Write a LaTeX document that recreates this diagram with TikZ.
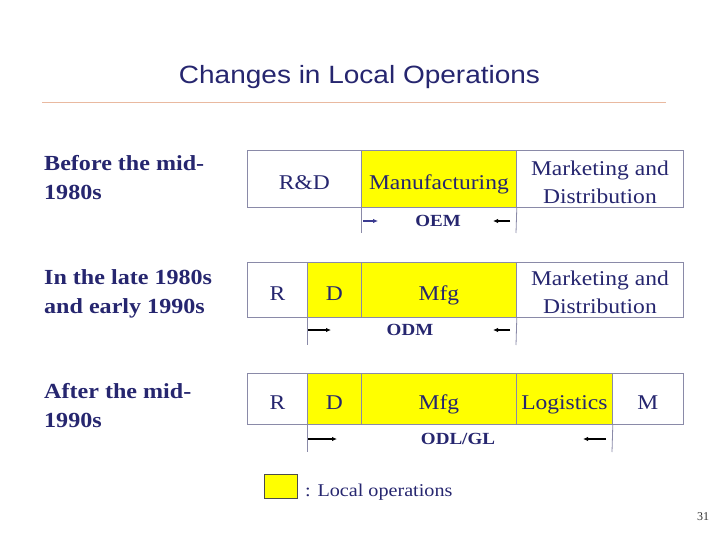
\documentclass[tikz,border=0pt]{standalone}
\usepackage{fontspec}
\setmainfont{Liberation Serif}
\newfontfamily\titlefont{Liberation Sans}
\usetikzlibrary{arrows.meta}
\definecolor{navy}{HTML}{26266F}
\definecolor{rulec}{HTML}{E9B9A0}
\definecolor{boxline}{HTML}{8A8AA8}
\definecolor{ylw}{HTML}{FFFF00}
\definecolor{arrblue}{HTML}{3A3A90}
\newcommand\wide[1]{\scalebox{1.12}[1]{#1}}
\begin{document}
\begin{tikzpicture}[x=1pt,y=-1pt,
  cellnode/.style={draw=boxline, line width=0.8pt, anchor=north west, inner sep=0pt,
    font=\fontsize{21}{28}\selectfont, text=navy, align=center, text depth=0pt},
  yel/.style={fill=ylw},
  tickline/.style={draw=boxline, line width=0.8pt},
  tag/.style={font=\bfseries\fontsize{17}{20}\selectfont, text=navy, inner sep=0pt},
  arr/.style={-{Latex[length=5pt,width=4.5pt]}, line width=1.2pt},
  lefttext/.style={font=\bfseries\fontsize{21.5}{29}\selectfont, text=navy, align=left, inner sep=0pt, anchor=base west}
]
\useasboundingbox[fill=white] (0,0) rectangle (720,540);
% title
\node[font=\titlefont\fontsize{25}{30}\selectfont, text=navy, inner sep=0pt, anchor=base] (title) at (359.5,83.5) {\wide{Changes in Local Operations}};
\coordinate (rl) at (42,102);
\coordinate (rr) at (666,102);
\draw[rulec, line width=0.8pt] (rl) -- (rr);

% left labels (anchor = baseline of last line)
\node[lefttext] (l1) at (44,200) {\wide{Before the mid-}\\\wide{1980s}};
\node[lefttext] (l2) at (44,313) {\wide{In the late 1980s}\\\wide{and early 1990s}};
\node[lefttext] (l3) at (44,427) {\wide{After the mid-}\\\wide{1990s}};

% row 1
\node[cellnode, text height=21pt, minimum width=114pt, minimum height=57pt] (a1) at (247,150) {\wide{R\&D}};
\node[cellnode, yel, text height=21pt, minimum width=155pt, minimum height=57pt] (a2) at (361,150) {\wide{Manufacturing}};
\node[cellnode, text height=49pt, minimum width=167pt, minimum height=57pt] (a3) at (516,150) {\wide{Marketing and}\\\wide{Distribution}};
\coordinate (t1a) at (361,233);
\coordinate (t1b) at (516,233);
\draw[tickline] (a2.south west) -- (t1a);
\draw[tickline] (a2.south east) -- (t1b);
\node[tag] (oem) at (438,221) {\wide{OEM}};
\coordinate (p1a) at (363,221); \coordinate (p1b) at (378,221);
\coordinate (p1c) at (510,221); \coordinate (p1d) at (493,221);
\draw[arr, arrblue] (p1a) -- (p1b);
\draw[arr, black] (p1c) -- (p1d);

% row 2
\node[cellnode, text height=22pt, minimum width=60pt, minimum height=55pt] (b1) at (247,262) {\wide{R}};
\node[cellnode, yel, text height=22pt, minimum width=54pt, minimum height=55pt] (b2) at (307,262) {\wide{D}};
\node[cellnode, yel, text height=22pt, minimum width=155pt, minimum height=55pt] (b3) at (361,262) {\wide{Mfg}};
\node[cellnode, text height=47pt, minimum width=167pt, minimum height=55pt] (b4) at (516,262) {\wide{Marketing and}\\\wide{Distribution}};
\coordinate (t2a) at (307,345);
\coordinate (t2b) at (516,345);
\draw[tickline] (b2.south west) -- (t2a);
\draw[tickline] (b3.south east) -- (t2b);
\node[tag] (odm) at (410,330) {\wide{ODM}};
\coordinate (p2a) at (308,330); \coordinate (p2b) at (331,330);
\coordinate (p2c) at (510,330); \coordinate (p2d) at (493,330);
\draw[arr] (p2a) -- (p2b);
\draw[arr] (p2c) -- (p2d);

% row 3
\node[cellnode, text height=21pt, minimum width=60pt, minimum height=51pt] (c1) at (247,373) {\wide{R}};
\node[cellnode, yel, text height=21pt, minimum width=54pt, minimum height=51pt] (c2) at (307,373) {\wide{D}};
\node[cellnode, yel, text height=21pt, minimum width=155pt, minimum height=51pt] (c3) at (361,373) {\wide{Mfg}};
\node[cellnode, yel, text height=21pt, minimum width=96pt, minimum height=51pt] (c4) at (516,373) {\wide{Logistics}};
\node[cellnode, text height=21pt, minimum width=71pt, minimum height=51pt] (c5) at (612,373) {\wide{M}};
\coordinate (t3a) at (307,452);
\coordinate (t3b) at (612,452);
\draw[tickline] (c2.south west) -- (t3a);
\draw[tickline] (c4.south east) -- (t3b);
\node[tag] (odl) at (458,439) {\wide{ODL/GL}};
\coordinate (p3a) at (308,439); \coordinate (p3b) at (337,439);
\coordinate (p3c) at (606,439); \coordinate (p3d) at (583,439);
\draw[arr] (p3a) -- (p3b);
\draw[arr] (p3c) -- (p3d);

% legend
\node[draw=black!70, fill=ylw, line width=0.8pt, anchor=north west, minimum width=33pt, minimum height=24pt, inner sep=0pt] (leg) at (264,474) {};
\node[font=\fontsize{18}{22}\selectfont, text=navy, anchor=base west, inner sep=0pt] (legt) at (305,496) {\wide{: Local operations}};

% page number
\node[font=\fontsize{12}{14}\selectfont, text=black!80, inner sep=0pt] (pg) at (703,517) {31};
\end{tikzpicture}
\end{document}
